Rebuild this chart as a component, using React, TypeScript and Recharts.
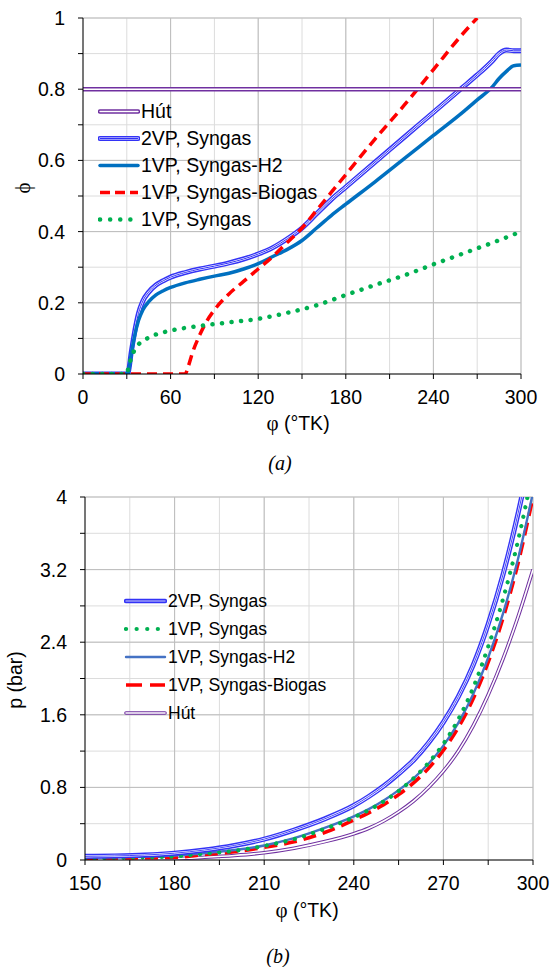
import React from 'react';
import { LineChart, Line, XAxis, YAxis, CartesianGrid, ReferenceLine } from 'recharts';

// ---- (a) phi vs crank angle ----
const topXTicks = [0, 30, 60, 90, 120, 150, 180, 210, 240, 270, 300];
const topYTicks = [0, 0.1, 0.2, 0.3, 0.4, 0.5, 0.6, 0.7, 0.8, 0.9, 1];

const hutAngleA = [0, 300];
const hutPhiA = [0.8, 0.8];

const vp2AngleA = [0, 30, 31, 33, 35, 38, 41, 45, 50, 55, 60, 70, 80, 90, 100, 110, 120, 130, 140, 150, 160, 170, 180, 200, 220, 240, 260, 270, 280, 285, 290, 295, 300];
const vp2PhiA = [0, 0, 0.005, 0.06, 0.11, 0.17, 0.205, 0.23, 0.25, 0.262, 0.272, 0.285, 0.295, 0.303, 0.312, 0.323, 0.337, 0.355, 0.38, 0.41, 0.45, 0.49, 0.525, 0.595, 0.665, 0.735, 0.805, 0.84, 0.878, 0.9, 0.91, 0.908, 0.908];

const h2AngleA = [0, 30, 31, 33, 35, 38, 41, 45, 50, 55, 60, 70, 80, 90, 100, 110, 120, 130, 140, 150, 160, 170, 180, 200, 220, 240, 260, 270, 280, 285, 290, 295, 300];
const h2PhiA = [0, 0, 0.005, 0.055, 0.1, 0.15, 0.18, 0.203, 0.222, 0.234, 0.243, 0.256, 0.266, 0.275, 0.283, 0.295, 0.31, 0.33, 0.35, 0.375, 0.41, 0.445, 0.477, 0.54, 0.605, 0.67, 0.735, 0.77, 0.805, 0.83, 0.85, 0.866, 0.868];

const bioAngleA = [0, 70, 72, 75, 80, 85, 90, 100, 110, 120, 130, 140, 150, 160, 170, 180, 200, 220, 240, 260, 270];
const bioPhiA = [0, 0, 0.02, 0.06, 0.11, 0.15, 0.18, 0.225, 0.26, 0.295, 0.33, 0.37, 0.41, 0.46, 0.51, 0.56, 0.66, 0.755, 0.855, 0.955, 1.0];

const vp1AngleA = [0, 30, 31, 33, 35, 38, 42, 48, 55, 65, 80, 100, 120, 140, 160, 180, 200, 220, 240, 260, 280, 300];
const vp1PhiA = [0, 0, 0.015, 0.045, 0.065, 0.083, 0.095, 0.108, 0.117, 0.126, 0.135, 0.145, 0.155, 0.172, 0.193, 0.222, 0.25, 0.277, 0.308, 0.338, 0.368, 0.4];

// ---- (b) pressure vs crank angle ----
const botXTicks = [150, 165, 180, 195, 210, 225, 240, 255, 270, 285, 300];
const botYTicks = [0, 0.4, 0.8, 1.2, 1.6, 2, 2.4, 2.8, 3.2, 3.6, 4];

const angleB = [150, 160, 170, 180, 190, 200, 210, 220, 230, 240, 245, 250, 255, 260, 265, 270, 275, 280, 285, 290, 295, 300];
const vp2PB = [0.04, 0.045, 0.055, 0.075, 0.11, 0.16, 0.23, 0.33, 0.45, 0.6, 0.7, 0.815, 0.95, 1.1, 1.29, 1.52, 1.8, 2.15, 2.6, 3.15, 3.82, 4.6];
const vp1PB = [0.02, 0.025, 0.03, 0.04, 0.07, 0.1, 0.155, 0.23, 0.34, 0.47, 0.55, 0.645, 0.76, 0.9, 1.07, 1.28, 1.55, 1.9, 2.35, 2.88, 3.52, 4.3];
const h2PB = [0.03, 0.033, 0.038, 0.05, 0.075, 0.11, 0.16, 0.24, 0.35, 0.48, 0.56, 0.655, 0.77, 0.9, 1.06, 1.26, 1.51, 1.83, 2.23, 2.72, 3.32, 4.05];
const bioPB = [0.02, 0.022, 0.025, 0.03, 0.06, 0.09, 0.14, 0.2, 0.3, 0.44, 0.52, 0.61, 0.72, 0.85, 1.01, 1.21, 1.46, 1.78, 2.18, 2.67, 3.27, 4.0];
const hutPB = [0.01, 0.01, 0.012, 0.015, 0.03, 0.05, 0.08, 0.13, 0.2, 0.29, 0.35, 0.43, 0.53, 0.65, 0.8, 0.98, 1.2, 1.48, 1.82, 2.22, 2.68, 3.2];

const PURPLE = '#7030a0';
const BLUE = '#3333f6';
const TEAL = '#0070c0';
const STEEL = '#4472c4';
const RED = '#ff0000';
const GREEN = '#00b050';
const FONT = '"Liberation Sans", Arial, sans-serif';
const SERIF = '"Liberation Serif", "Times New Roman", serif';

const zip = (xs: number[], ys: number[]) => xs.map((x, i) => ({ x, y: ys[i] }));

type Stroke = { c: string; w: number; dash?: string; cap?: 'round' | 'butt' };

// stacked strokes fake Excel's compound (double / triple) lines
const hutStyleA: Stroke[] = [{ c: PURPLE, w: 4.5 }, { c: '#fff', w: 1.4 }];
const vp2StyleA: Stroke[] = [{ c: BLUE, w: 5 }, { c: '#fff', w: 2.1 }, { c: BLUE, w: 1.0 }];
const h2StyleA: Stroke[] = [{ c: TEAL, w: 3.5 }];
const bioStyleA: Stroke[] = [{ c: RED, w: 3.5, dash: '10 6' }];
const vp1StyleA: Stroke[] = [{ c: GREEN, w: 4.5, dash: '0.1 9.5', cap: 'round' }];

const hutStyleB: Stroke[] = [{ c: PURPLE, w: 3.6 }, { c: '#fff', w: 1.6 }];
const vp2StyleB: Stroke[] = [{ c: BLUE, w: 5 }, { c: '#fff', w: 2.2 }, { c: BLUE, w: 0.9 }];
const h2StyleB: Stroke[] = [{ c: STEEL, w: 2.4 }];
const bioStyleB: Stroke[] = [{ c: RED, w: 3.6, dash: '13 7' }];
const vp1StyleB: Stroke[] = [{ c: GREEN, w: 4.2, dash: '0.1 9.5', cap: 'round' }];

const renderSeries = (key: string, data: { x: number; y: number }[], style: Stroke[]) =>
  style.map((s, i) => (
    <Line
      key={key + i}
      data={data}
      dataKey="y"
      type="monotone"
      stroke={s.c}
      strokeWidth={s.w}
      strokeDasharray={s.dash}
      strokeLinecap={s.cap || 'butt'}
      dot={false}
      activeDot={false}
      isAnimationActive={false}
    />
  ));

const tickStyle = { fill: '#000', fontSize: 19.5, fontFamily: FONT };

type LegendItem = { name: string; style: Stroke[] };

const LegendBox = ({ items, left, top, rowH, fontSize, sampleW }: { items: LegendItem[]; left: number; top: number; rowH: number; fontSize: number; sampleW: number }) => (
  <div style={{ position: 'absolute', left, top, fontFamily: FONT, fontSize, color: '#000' }}>
    {items.map((it) => (
      <div key={it.name} style={{ display: 'flex', alignItems: 'center', height: rowH, whiteSpace: 'nowrap' }}>
        <svg width={sampleW} height={rowH} style={{ display: 'block' }}>
          {it.style.map((s, i) => (
            <line
              key={i}
              x1={2}
              x2={sampleW - 2}
              y1={rowH / 2}
              y2={rowH / 2}
              stroke={s.c}
              strokeWidth={s.w}
              strokeDasharray={s.dash}
              strokeLinecap={s.dash && !s.cap ? 'butt' : 'round'}
            />
          ))}
        </svg>
        <span style={{ marginLeft: 1 }}>{it.name}</span>
      </div>
    ))}
  </div>
);

const centered = (left: number, top: number, extra: React.CSSProperties = {}): React.CSSProperties => ({
  position: 'absolute',
  left,
  top,
  transform: 'translate(-50%, -50%)',
  whiteSpace: 'nowrap',
  color: '#000',
  ...extra,
});

const fmtTop = (v: number) => (Math.round(v * 10) % 2 === 0 ? (v === 0 ? '0' : v === 1 ? '1' : v.toFixed(1)) : '');
const fmtTopX = (v: number) => (v % 60 === 0 ? String(v) : '');
const fmtBot = (v: number) => (Math.round(v * 10) % 8 === 0 ? (v === 0 ? '0' : v === 4 ? '4' : v.toFixed(1)) : '');
const fmtBotX = (v: number) => (v % 30 === 0 ? String(v) : '');

export default function App() {
  const topMajorX = topXTicks.filter((v) => v > 0 && v % 60 === 0);
  const topMajorY = topYTicks.filter((v) => v > 0 && Math.round(v * 10) % 2 === 0);
  const botMajorX = botXTicks.filter((v) => v > 150 && v % 30 === 0);
  const botMajorY = botYTicks.filter((v) => v > 0 && Math.round(v * 10) % 8 === 0);

  return (
    <div style={{ position: 'absolute', left: 0, top: 0, width: 559, height: 967, background: '#fff', fontFamily: FONT }}>
      {/* chart (a) */}
      <div style={{ position: 'absolute', left: 0, top: 0 }}>
        <LineChart width={559} height={440} margin={{ top: 18, right: 38, bottom: 0, left: 0 }}>
          <CartesianGrid stroke="#dcdcdc" strokeWidth={1} />
          {topMajorX.map((v) => (
            <ReferenceLine key={'vx' + v} x={v} stroke="#bdbdbd" strokeWidth={1} />
          ))}
          {topMajorY.map((v) => (
            <ReferenceLine key={'hy' + v} y={v} stroke="#bdbdbd" strokeWidth={1} />
          ))}
          <XAxis
            type="number"
            dataKey="x"
            domain={[0, 300]}
            ticks={topXTicks}
            tickFormatter={fmtTopX}
            interval={0}
            height={66}
            tick={tickStyle}
            tickSize={5}
            tickMargin={11}
            axisLine={{ stroke: '#000' }}
            tickLine={{ stroke: '#000' }}
            allowDataOverflow
          />
          <YAxis
            type="number"
            domain={[0, 1]}
            ticks={topYTicks}
            tickFormatter={fmtTop}
            interval={0}
            width={83}
            tick={tickStyle}
            tickSize={5}
            tickMargin={13}
            axisLine={{ stroke: '#000' }}
            tickLine={{ stroke: '#000' }}
            allowDataOverflow
          />
          {renderSeries('vp2', zip(vp2AngleA, vp2PhiA), vp2StyleA)}
          {renderSeries('h2', zip(h2AngleA, h2PhiA), h2StyleA)}
          {renderSeries('bio', zip(bioAngleA, bioPhiA), bioStyleA)}
          {renderSeries('vp1', zip(vp1AngleA, vp1PhiA), vp1StyleA)}
          {renderSeries('hut', zip(hutAngleA, hutPhiA), hutStyleA)}
        </LineChart>
      </div>
      <LegendBox
        left={98}
        top={97.5}
        rowH={27}
        fontSize={19.5}
        sampleW={42}
        items={[
          { name: 'Hút', style: hutStyleA },
          { name: '2VP, Syngas', style: vp2StyleA },
          { name: '1VP, Syngas-H2', style: h2StyleA },
          { name: '1VP, Syngas-Biogas', style: [{ c: RED, w: 3.5, dash: '10 5' }] },
          { name: '1VP, Syngas', style: [{ c: GREEN, w: 4.5, dash: '0.1 10', cap: 'round' }] },
        ]}
      />
      <div style={centered(23, 188, { fontFamily: SERIF, fontSize: 21, transform: 'translate(-50%, -50%) rotate(-90deg)' })}>ϕ</div>
      <div style={centered(298, 423, { fontSize: 19.5 })}>
        <span style={{ fontFamily: SERIF, fontSize: 21 }}>φ</span> (°TK)
      </div>
      <div style={centered(280, 463, { fontFamily: SERIF, fontStyle: 'italic', fontSize: 20 })}>(a)</div>

      {/* chart (b) */}
      <div style={{ position: 'absolute', left: 0, top: 470 }}>
        <LineChart width={559} height={440} margin={{ top: 27, right: 26, bottom: 0, left: 0 }}>
          <CartesianGrid stroke="#dcdcdc" strokeWidth={1} />
          {botMajorX.map((v) => (
            <ReferenceLine key={'vx' + v} x={v} stroke="#bdbdbd" strokeWidth={1} />
          ))}
          {botMajorY.map((v) => (
            <ReferenceLine key={'hy' + v} y={v} stroke="#bdbdbd" strokeWidth={1} />
          ))}
          <XAxis
            type="number"
            dataKey="x"
            domain={[150, 300]}
            ticks={botXTicks}
            tickFormatter={fmtBotX}
            interval={0}
            height={50}
            tick={tickStyle}
            tickSize={5}
            tickMargin={11}
            axisLine={{ stroke: '#000' }}
            tickLine={{ stroke: '#000' }}
            allowDataOverflow
          />
          <YAxis
            type="number"
            domain={[0, 4]}
            ticks={botYTicks}
            tickFormatter={fmtBot}
            interval={0}
            width={85}
            tick={tickStyle}
            tickSize={5}
            tickMargin={13}
            axisLine={{ stroke: '#000' }}
            tickLine={{ stroke: '#000' }}
            allowDataOverflow
          />
          {renderSeries('hut', zip(angleB, hutPB), hutStyleB)}
          {renderSeries('bio', zip(angleB, bioPB), bioStyleB)}
          {renderSeries('h2', zip(angleB, h2PB), h2StyleB)}
          {renderSeries('vp1', zip(angleB, vp1PB), vp1StyleB)}
          {renderSeries('vp2', zip(angleB, vp2PB), vp2StyleB)}
        </LineChart>
      </div>
      <LegendBox
        left={124}
        top={587}
        rowH={28}
        fontSize={17.5}
        sampleW={43}
        items={[
          { name: '2VP, Syngas', style: [{ c: BLUE, w: 4.5 }, { c: '#9a9af8', w: 1.4 }] },
          { name: '1VP, Syngas', style: [{ c: GREEN, w: 4.2, dash: '0.1 10.5', cap: 'round' }] },
          { name: '1VP, Syngas-H2', style: h2StyleB },
          { name: '1VP, Syngas-Biogas', style: [{ c: RED, w: 3.6, dash: '16 8' }] },
          { name: 'Hút', style: hutStyleB },
        ]}
      />
      <div style={centered(15, 680, { fontSize: 19.5, transform: 'translate(-50%, -50%) rotate(-90deg)' })}>p (bar)</div>
      <div style={centered(307, 910, { fontSize: 19.5 })}>
        <span style={{ fontFamily: SERIF, fontSize: 21 }}>φ</span> (°TK)
      </div>
      <div style={centered(278, 956, { fontFamily: SERIF, fontStyle: 'italic', fontSize: 20 })}>(b)</div>
    </div>
  );
}
